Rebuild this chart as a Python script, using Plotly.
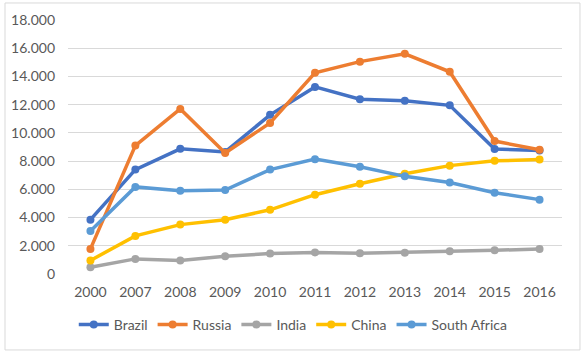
import plotly.graph_objects as go

years = ["2000", "2007", "2008", "2009", "2010", "2011", "2012", "2013", "2014", "2015", "2016"]
brazil = [3850, 7400, 8870, 8650, 11280, 13260, 12380, 12280, 11950, 8850, 8750]
russia = [1780, 9100, 11700, 8580, 10700, 14260, 15050, 15600, 14330, 9420, 8800]
india = [480, 1070, 950, 1250, 1450, 1530, 1470, 1510, 1610, 1680, 1770]
china = [960, 2700, 3500, 3850, 4550, 5620, 6400, 7100, 7680, 8020, 8110]
south_africa = [3050, 6170, 5900, 5950, 7400, 8140, 7600, 6920, 6480, 5760, 5270]
y_ticks = [0, 2000, 4000, 6000, 8000, 10000, 12000, 14000, 16000, 18000]

series = [
    ("Brazil", brazil, "#4472C4"),
    ("Russia", russia, "#ED7D31"),
    ("India", india, "#A5A5A5"),
    ("China", china, "#FFC000"),
    ("South Africa", south_africa, "#5B9BD5"),
]

fig = go.Figure()
for name, vals, col in series:
    fig.add_trace(go.Scatter(
        x=years, y=vals, name=name, mode="lines+markers",
        line=dict(color=col, width=3.5),
        marker=dict(color=col, size=8),
    ))

fig.update_layout(
    width=587, height=353,
    margin=dict(l=68, r=25, t=20, b=79),
    paper_bgcolor="white", plot_bgcolor="white",
    separators=",.",
    font=dict(family="Lato, Open Sans, sans-serif", size=14, color="#595959"),
    xaxis=dict(type="category", range=[-0.5, 10.5], showgrid=False, showline=False,
               ticks="", ticklabelstandoff=8, tickfont=dict(size=14, color="#595959"),
               fixedrange=True),
    yaxis=dict(range=[0, 18000], tickvals=y_ticks, tickformat=",d", showgrid=True,
               gridcolor="#D9D9D9", gridwidth=1, zeroline=False, showline=False,
               ticks="", ticklabelstandoff=12, tickfont=dict(size=14, color="#595959")),
    legend=dict(orientation="h", x=0.456, xanchor="center", y=-0.2, yanchor="middle",
                font=dict(size=14, color="#595959"), itemwidth=30, tracegroupgap=0),
    showlegend=True,
    shapes=[dict(type="rect", xref="paper", yref="paper", x0=-0.1275, x1=1.0364,
                 y0=-0.299, y1=1.067, line=dict(color="#D9D9D9", width=1))],
)

fig.write_html("out.html")
